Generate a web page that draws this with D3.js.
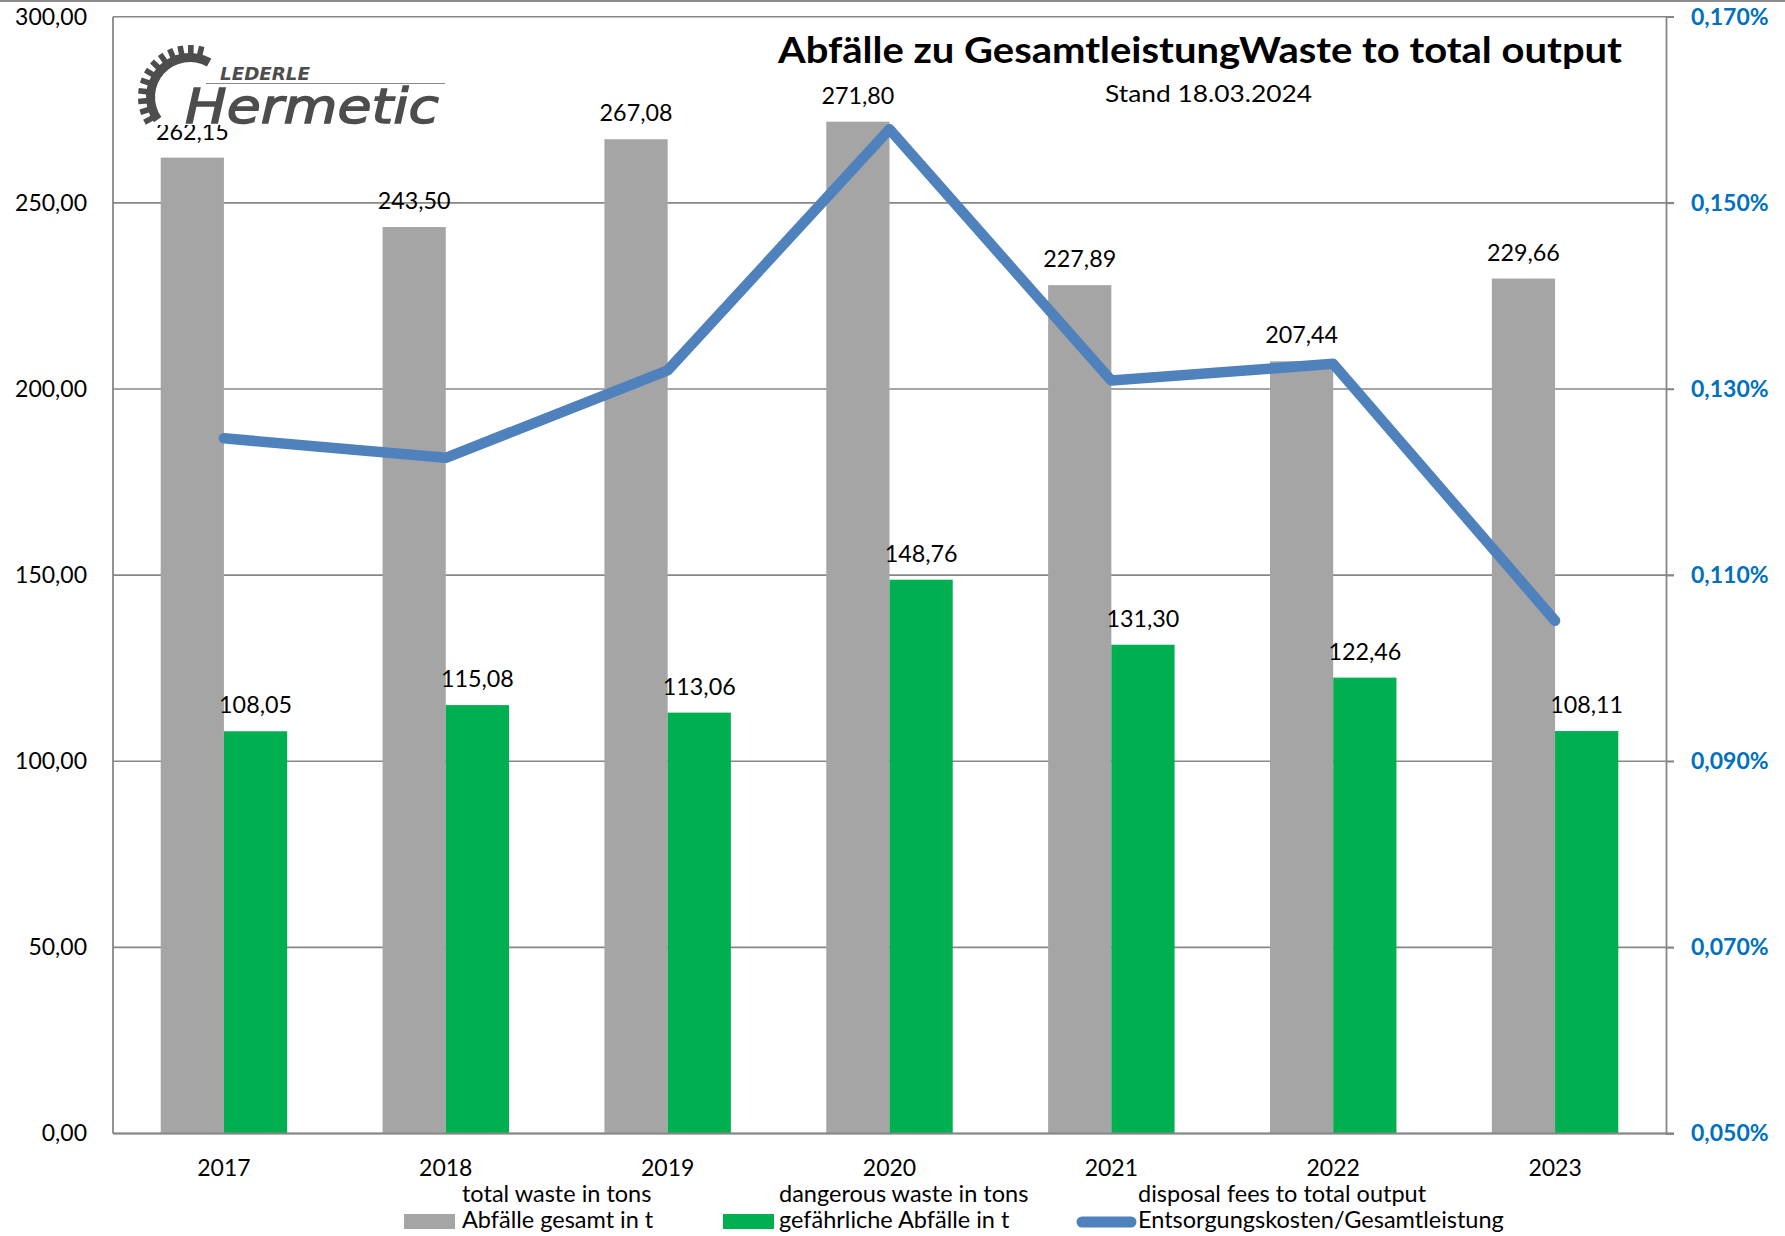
<!DOCTYPE html>
<html>
<head>
<meta charset="utf-8">
<script src="https://cdn.jsdelivr.net/npm/d3@7"></script>
<style>
  html, body { margin: 0; padding: 0; background: #fff; }
  svg { display: block; font-family: Lato, "Open Sans", sans-serif; }
</style>
</head>
<body>
<svg id="chart"></svg>
<script>
// values
var years = ["2017", "2018", "2019", "2020", "2021", "2022", "2023"];
var totalWaste = [262.15, 243.50, 267.08, 271.80, 227.89, 207.44, 229.66];
var dangerousWaste = [108.05, 115.08, 113.06, 148.76, 131.30, 122.46, 108.11];
var feeRatio = [0.1247, 0.1226, 0.1320, 0.1579, 0.1309, 0.1327, 0.1051]; // in %
var leftTicks = [0, 50, 100, 150, 200, 250, 300];
var rightTicks = [0.05, 0.07, 0.09, 0.11, 0.13, 0.15, 0.17];
var seriesNames = [
  ["total waste in tons", "Abfälle gesamt in t"],
  ["dangerous waste in tons", "gefährliche Abfälle in t"],
  ["disposal fees to total output", "Entsorgungskosten/Gesamtleistung"]
];

var width = 1785, height = 1236,
  plotLeft = 113, plotRight = 1666, plotTop = 16.7, plotBottom = 1133.5,
  gray = "#A5A5A5", green = "#00B050", blue = "#4F81BD", axisColor = "#878787";

var de = d3.formatLocale({decimal: ",", thousands: ".", grouping: [3], currency: ["", " €"]});
var fmt2 = de.format(".2f"), fmt3 = de.format(".3f");

var svg = d3.select("#chart").attr("width", width).attr("height", height);

// outer border (only the top edge is in frame)
svg.append("line").attr("x1", 0).attr("x2", width).attr("y1", 1).attr("y2", 1)
  .attr("stroke", "#8c8c8c").attr("stroke-width", 2);

var x = d3.scaleBand().domain(years).range([plotLeft, plotRight])
  .paddingInner(0.43).paddingOuter(0.215);
var xSub = d3.scaleBand().domain([0, 1]).range([0, x.bandwidth()]);
var y = d3.scaleLinear().domain([0, 300]).range([plotBottom, plotTop]);
var y2 = d3.scaleLinear().domain([0.05, 0.17]).range([plotBottom, plotTop]);

// gridlines
svg.append("g").selectAll("line").data(leftTicks).enter().append("line")
  .attr("x1", plotLeft).attr("x2", plotRight + 8)
  .attr("y1", function(d){ return y(d); }).attr("y2", function(d){ return y(d); })
  .attr("stroke", axisColor).attr("stroke-width", 1.6);

// left axis labels
var yAxis = svg.append("g").attr("transform", "translate(" + plotLeft + ",0)")
  .call(d3.axisLeft(y).tickValues(leftTicks).tickSize(0).tickPadding(26).tickFormat(fmt2));
yAxis.select(".domain").remove();
yAxis.selectAll("text").attr("font-family", "Lato").attr("font-size", 23).attr("fill", "#000");

// right axis
var y2Axis = svg.append("g").attr("transform", "translate(" + plotRight + ",0)")
  .call(d3.axisRight(y2).tickValues(rightTicks).tickSize(8).tickPadding(17)
    .tickFormat(function(d){ return fmt3(d) + "%"; }));
y2Axis.select(".domain").attr("stroke", axisColor).attr("stroke-width", 1.8);
y2Axis.selectAll("line").attr("stroke", axisColor).attr("stroke-width", 1.6);
y2Axis.selectAll("text").attr("font-family", "Lato").attr("font-weight", "bold")
  .attr("font-size", 23).attr("fill", "#0070C0");

// left axis line
svg.append("line").attr("x1", plotLeft).attr("x2", plotLeft).attr("y1", plotTop).attr("y2", plotBottom)
  .attr("stroke", axisColor).attr("stroke-width", 1.8);

// bars
var groups = svg.append("g").selectAll("g").data(years).enter().append("g")
  .attr("transform", function(d){ return "translate(" + x(d) + ",0)"; });

groups.append("rect")
  .attr("x", xSub(0)).attr("width", xSub.bandwidth())
  .attr("y", function(d, i){ return y(totalWaste[i]); })
  .attr("height", function(d, i){ return plotBottom - y(totalWaste[i]); })
  .attr("fill", gray);

groups.append("rect")
  .attr("x", xSub(1)).attr("width", xSub.bandwidth())
  .attr("y", function(d, i){ return y(dangerousWaste[i]); })
  .attr("height", function(d, i){ return plotBottom - y(dangerousWaste[i]); })
  .attr("fill", green);

// x axis
var xAxis = svg.append("g").attr("transform", "translate(0," + plotBottom + ")")
  .call(d3.axisBottom(x).tickSize(0).tickPadding(26));
xAxis.select(".domain").remove();
xAxis.selectAll("text").attr("font-family", "Lato").attr("font-size", 23).attr("fill", "#000");
svg.append("line").attr("x1", plotLeft).attr("x2", plotRight + 8).attr("y1", plotBottom).attr("y2", plotBottom)
  .attr("stroke", axisColor).attr("stroke-width", 1.8);

// fee ratio line
var line = d3.line()
  .x(function(d, i){ return x(years[i]) + x.bandwidth() / 2; })
  .y(function(d){ return y2(d); });

svg.append("path").datum(feeRatio)
  .attr("d", line)
  .attr("fill", "none").attr("stroke", blue).attr("stroke-width", 10.5)
  .attr("stroke-linejoin", "round").attr("stroke-linecap", "round");

// data labels
groups.append("text")
  .attr("x", xSub(0) + xSub.bandwidth() / 2)
  .attr("y", function(d, i){ return y(totalWaste[i]) - 18; })
  .attr("text-anchor", "middle").attr("font-size", 23.3)
  .text(function(d, i){ return fmt2(totalWaste[i]); });

groups.append("text")
  .attr("x", xSub(1) + xSub.bandwidth() / 2)
  .attr("y", function(d, i){ return y(dangerousWaste[i]) - 18; })
  .attr("text-anchor", "middle").attr("font-size", 23.3)
  .text(function(d, i){ return fmt2(dangerousWaste[i]); });

// title
svg.append("text").attr("x", 778).attr("y", 63)
  .attr("font-weight", "bold").attr("font-size", 37)
  .attr("textLength", 844).attr("lengthAdjust", "spacingAndGlyphs")
  .text("Abfälle zu GesamtleistungWaste to total output");
svg.append("text").attr("x", 1105).attr("y", 102)
  .attr("font-size", 23.5)
  .attr("textLength", 207).attr("lengthAdjust", "spacingAndGlyphs")
  .text("Stand 18.03.2024");

// logo
var logo = svg.append("g");
logo.append("rect").attr("x", 133).attr("y", 42).attr("width", 317).attr("height", 83).attr("fill", "#fff");
var gear = logo.append("g").attr("transform", "translate(190,97)");
gear.append("path")
  .attr("d", d3.arc().innerRadius(35).outerRadius(44)
    .startAngle(-125 * Math.PI / 180).endAngle(29 * Math.PI / 180)())
  .attr("fill", "#4d4d4d");
gear.selectAll("rect.tooth").data(d3.range(-119, 25, 12)).enter().append("rect")
  .attr("class", "tooth")
  .attr("x", -2.8).attr("width", 5.6).attr("y", -52).attr("height", 10)
  .attr("transform", function(d){ return "rotate(" + d + ")"; })
  .attr("fill", "#4d4d4d");
logo.append("line").attr("x1", 206).attr("x2", 445).attr("y1", 83.5).attr("y2", 83.5)
  .attr("stroke", "#8a8a8a").attr("stroke-width", 1);
logo.append("text").attr("x", 220).attr("y", 80)
  .attr("font-family", "DejaVu Sans").attr("font-style", "italic").attr("font-weight", "bold")
  .attr("font-size", 17.5).attr("fill", "#4d4d4d")
  .attr("textLength", 90).attr("lengthAdjust", "spacingAndGlyphs")
  .text("LEDERLE");
logo.append("text").attr("x", 185).attr("y", 123)
  .attr("font-family", "DejaVu Sans").attr("font-style", "italic")
  .attr("font-size", 48).attr("fill", "#4d4d4d").attr("stroke", "#4d4d4d").attr("stroke-width", 1.4)
  .attr("textLength", 254).attr("lengthAdjust", "spacingAndGlyphs")
  .text("Hermetic");

// legend
var legendX = [404, 723, 1077];
var textX = [462, 779, 1138];
var legend = svg.append("g");
legend.append("rect").attr("x", legendX[0]).attr("y", 1214).attr("width", 51).attr("height", 15).attr("fill", gray);
legend.append("rect").attr("x", legendX[1]).attr("y", 1214).attr("width", 51).attr("height", 15).attr("fill", green);
legend.append("line").attr("x1", legendX[2] + 5).attr("x2", legendX[2] + 54).attr("y1", 1222).attr("y2", 1222)
  .attr("stroke", blue).attr("stroke-width", 11).attr("stroke-linecap", "round");
seriesNames.forEach(function(names, i){
  var t = legend.append("text").attr("font-size", 23.5);
  t.append("tspan").attr("x", textX[i]).attr("y", 1202).text(names[0]);
  t.append("tspan").attr("x", textX[i]).attr("y", 1228).text(names[1]);
});
</script>
</body>
</html>
